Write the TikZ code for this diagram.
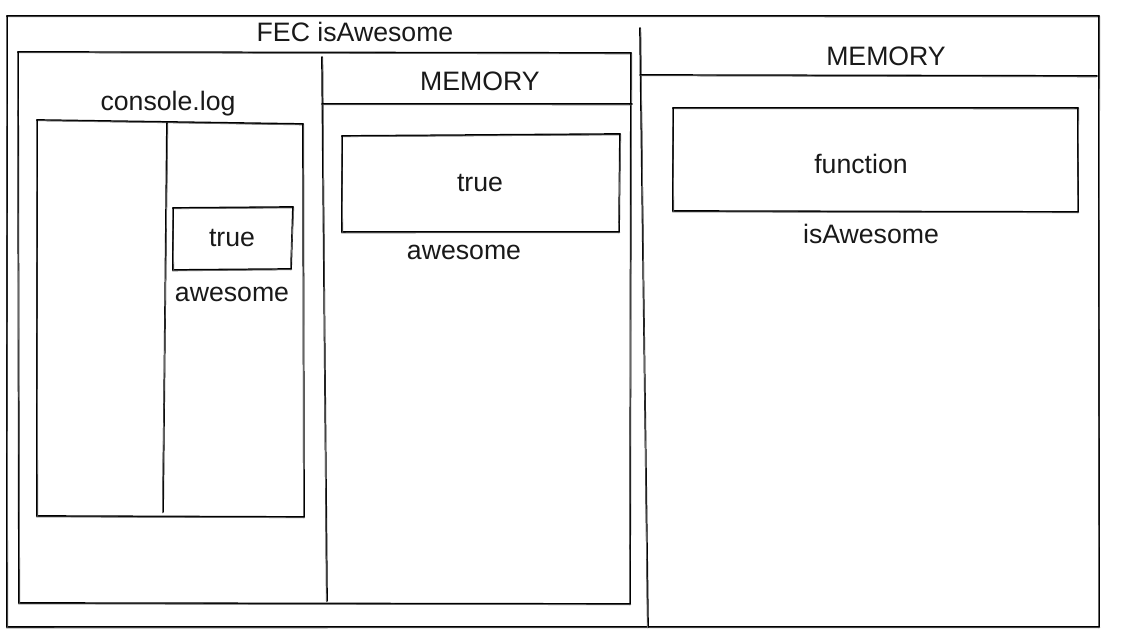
\documentclass[tikz,border=0pt]{standalone}
\usepackage{fontspec}
\setmainfont{Liberation Sans}
\usetikzlibrary{calc}
% a hand-drawn stroke: a firm line and a lighter second pass beside it
\newcommand\sk[2]{%
  \draw[ink] (#1) -- (#2);
  \draw[ink2] ($(#1)+(0.8,0.7)$) -- ($(#2)+(-0.6,0.9)$);}
\newcommand\skbox[4]{\sk{#1}{#2}\sk{#2}{#3}\sk{#3}{#4}\sk{#4}{#1}}
\begin{document}
\begin{tikzpicture}[x=0.75pt,y=-0.75pt,
  ink/.style={line width=1.3pt, black, line cap=round},
  ink2/.style={line width=0.6pt, black!60, line cap=round},
  lbl/.style={font=\fontsize{20}{24}\selectfont, text=black!90, inner sep=0pt, anchor=center}]
\useasboundingbox (0,0) rectangle (1131,628);

% outer frame and its split into two halves
\coordinate (o1) at (7,16);    \coordinate (o2) at (1099,16);
\coordinate (o3) at (1099,627); \coordinate (o4) at (7,627);
\skbox{o1}{o2}{o3}{o4}
\coordinate (d1) at (640,28);  \coordinate (d2) at (648,627);
\sk{d1}{d2}

% right half: memory header and the function cell
\coordinate (h1) at (640,75);  \coordinate (h2) at (1097,76);
\sk{h1}{h2}
\coordinate (f1) at (673,108); \coordinate (f2) at (1078,108);
\coordinate (f3) at (1078,212); \coordinate (f4) at (673,211);
\skbox{f1}{f2}{f3}{f4}

% left half: execution context box
\coordinate (i1) at (18,52);   \coordinate (i2) at (631,53);
\coordinate (i3) at (630,604); \coordinate (i4) at (19,603);
\skbox{i1}{i2}{i3}{i4}
\coordinate (v1) at (322,57);  \coordinate (v2) at (327,601);
\sk{v1}{v2}
\coordinate (g1) at (322,104); \coordinate (g2) at (632,104);
\sk{g1}{g2}
\coordinate (t1) at (342,136); \coordinate (t2) at (620,134);
\coordinate (t3) at (619,232); \coordinate (t4) at (342,232);
\skbox{t1}{t2}{t3}{t4}

% console.log panel
\coordinate (c1) at (37,120);  \coordinate (c2) at (303,124);
\coordinate (c3) at (304,517); \coordinate (c4) at (37,516);
\skbox{c1}{c2}{c3}{c4}
\coordinate (e1) at (167,123); \coordinate (e2) at (163,512);
\sk{e1}{e2}
\coordinate (s1) at (173,208); \coordinate (s2) at (293,207);
\coordinate (s3) at (291,269); \coordinate (s4) at (173,270);
\skbox{s1}{s2}{s3}{s4}

% labels
\node[lbl] (fec)   at (355,32)  {FEC isAwesome};
\node[lbl] (memL)  at (480,81)  {MEMORY};
\node[lbl] (memR)  at (886,56)  {MEMORY};
\node[lbl] (clog)  at (168,104) {console.log};
\node[lbl] (ctrue) at (232,238) {true};
\node[lbl] (cawe)  at (232,294) {awesome};
\node[lbl] (mtrue) at (480,183) {true};
\node[lbl] (mawe)  at (464,252) {awesome};
\node[lbl] (fn)    at (861,164) {function};
\node[lbl] (isaw)  at (871,234) {isAwesome};
\end{tikzpicture}
\end{document}
